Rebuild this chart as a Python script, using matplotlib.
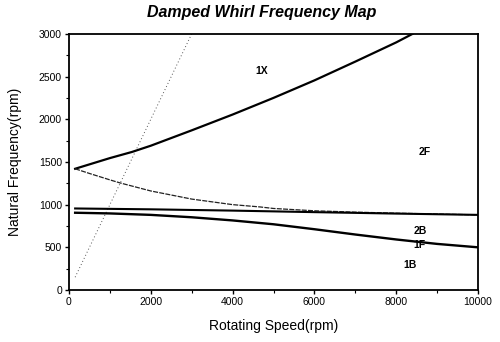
import numpy as np
import matplotlib
matplotlib.use('Agg')
import matplotlib.pyplot as plt
from matplotlib.ticker import MultipleLocator

plt.rcParams['font.family'] = ['Liberation Sans', 'DejaVu Sans']

# ------------------------------------------------------| Data
# 1X excitation line
speed_1x = [150, 3030]
freq_1x = [150, 3030]

# 2F - forward whirl, upper branch
speed_2f = [150, 1000, 1540, 2000, 3000, 4000, 5000, 6000, 7000, 8000, 8400]
freq_2f = [1420, 1545, 1617, 1690, 1870, 2055, 2250, 2455, 2675, 2900, 3000]

# 2B - backward whirl, decaying branch
speed_2b = [150, 500, 1000, 1250, 2000, 3000, 4000, 4670, 5000, 6000, 7000, 8000, 9000, 10000]
freq_2b = [1420, 1365, 1290, 1254, 1160, 1065, 1000, 973, 955, 928, 912, 900, 890, 880]

# 1F - nearly flat branch
speed_1f = [150, 2000, 4000, 6000, 8000, 10000]
freq_1f = [955, 945, 930, 912, 895, 880]

# 1B - lower branch
speed_1b = [150, 1000, 2000, 3000, 4000, 5000, 6000, 7000, 8000, 9000, 10000]
freq_1b = [905, 897, 880, 852, 815, 770, 712, 650, 592, 540, 500]

# mode labels
mode_names = ['1X', '2F', '2B', '1F', '1B']
mode_x = [4720, 8700, 8580, 8580, 8340]
mode_y = [2566, 1620, 690, 527, 293]

# ------------------------------------------------------| Plot
fig = plt.figure(figsize=(5, 3.42), dpi=100)
ax = fig.add_axes([0.138, 0.152, 0.818, 0.749])

ax.plot(speed_1x, freq_1x, color='#555555', lw=0.7, ls=(0, (1, 2.5)))
ax.plot(speed_2f, freq_2f, 'k', lw=1.6)
ax.plot(speed_2b, freq_2b, color='#222222', lw=0.9, ls=(0, (4, 1)))
ax.plot(speed_1f, freq_1f, 'k', lw=1.5)
ax.plot(speed_1b, freq_1b, 'k', lw=1.7)

for name, xx, yy in zip(mode_names, mode_x, mode_y):
    ax.text(xx, yy, name, fontsize=7.5, fontweight='bold', ha='center', va='center')

ax.set_xlim(0, 10000)
ax.set_ylim(0, 3000)
ax.xaxis.set_major_locator(MultipleLocator(2000))
ax.xaxis.set_minor_locator(MultipleLocator(1000))
ax.yaxis.set_major_locator(MultipleLocator(500))
ax.yaxis.set_minor_locator(MultipleLocator(250))
ax.tick_params(which='major', length=3, width=1, labelsize=7.5, pad=2)
ax.tick_params(which='minor', length=2, width=0.8)
for s in ax.spines.values():
    s.set_linewidth(1.3)

ax.set_title('Damped Whirl Frequency Map', fontsize=11.5, fontweight='bold',
             style='italic', x=0.47, pad=12)
ax.set_xlabel('Rotating Speed(rpm)', fontsize=10, labelpad=9)
ax.set_ylabel('Natural Frequency(rpm)', fontsize=10, labelpad=12)

fig.savefig('out.png', dpi=100)
